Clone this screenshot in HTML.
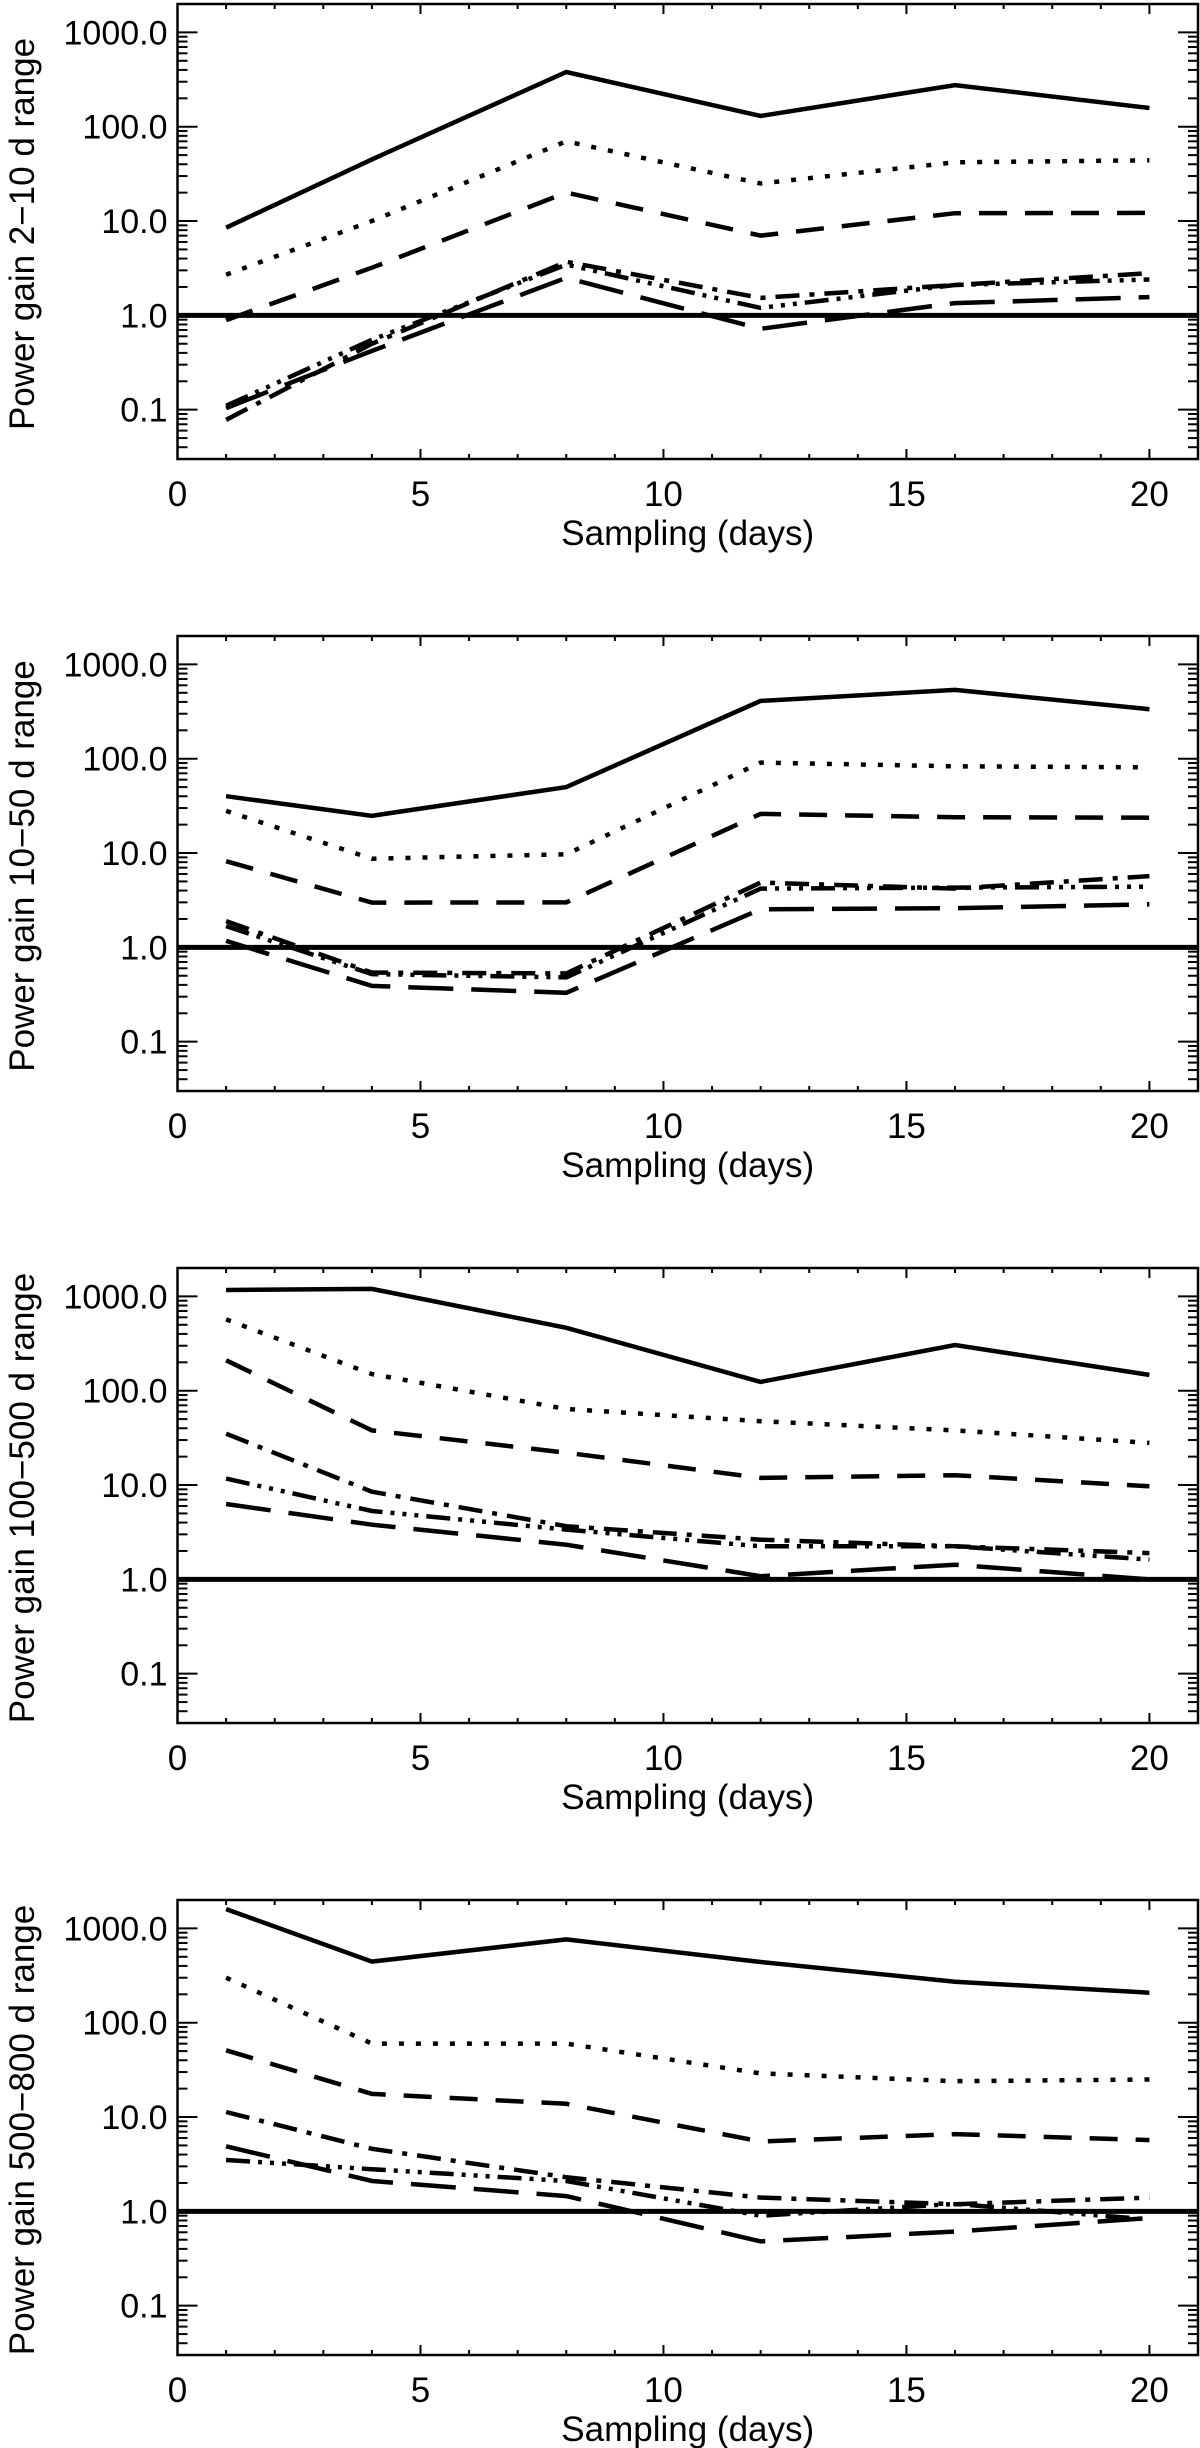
<!DOCTYPE html>
<html><head><meta charset="utf-8">
<style>
html,body{margin:0;padding:0;background:#fff;}
svg{display:block;}
text{font-family:"Liberation Sans",sans-serif;fill:#000;}
</style></head>
<body>
<svg id="chart" width="1200" height="2448" viewBox="0 0 1200 2448" xmlns="http://www.w3.org/2000/svg"></svg>
<script>
const sampling = [1, 4, 8, 12, 16, 20];
const panelTitles = ["Power gain 2\u221210 d range", "Power gain 10\u221250 d range", "Power gain 100\u2212500 d range", "Power gain 500\u2212800 d range"];
const xTickLabels = ["0", "5", "10", "15", "20"];
const xTickValues = [0, 5, 10, 15, 20];
const yTickLabels = ["0.1", "1.0", "10.0", "100.0", "1000.0"];
const yTickValues = [0.1, 1, 10, 100, 1000];
const seriesNames = ["solid", "dotted", "dashed", "dash-dot", "dash-dot-dot", "long-dash"];
const p1Solid = [8.5, 45, 380, 130, 276, 158];
const p1Dotted = [2.7, 10, 70, 25, 42, 44];
const p1Dashed = [0.89, 3.2, 20, 7.0, 12.1, 12.2];
const p1DashDot = [0.078, 0.5, 3.7, 1.53, 2.1, 2.8];
const p1DashDotDot = [0.11, 0.55, 3.45, 1.2, 2.1, 2.4];
const p1LongDash = [0.104, 0.42, 2.5, 0.72, 1.35, 1.56];
const p2Solid = [40, 24.8, 50, 410, 537, 335];
const p2Dotted = [28, 8.7, 9.7, 91, 83, 81];
const p2Dashed = [8.2, 2.98, 3.0, 26, 24, 23.7];
const p2DashDot = [1.9, 0.54, 0.53, 4.86, 4.2, 5.7];
const p2DashDotDot = [1.68, 0.52, 0.48, 4.2, 4.3, 4.4];
const p2LongDash = [1.17, 0.39, 0.33, 2.53, 2.6, 2.86];
const p3Solid = [1170, 1200, 465, 124, 305, 147];
const p3Dotted = [570, 150, 64, 47.5, 38, 28];
const p3Dashed = [210, 38, 22, 11.9, 12.7, 9.7];
const p3DashDot = [35, 8.5, 3.66, 2.63, 2.24, 1.9];
const p3DashDotDot = [11.7, 5.3, 3.37, 2.24, 2.24, 1.62];
const p3LongDash = [6.3, 3.8, 2.33, 1.08, 1.43, 1.0];
const p4Solid = [1600, 445, 765, 440, 272, 208];
const p4Dotted = [300, 60, 60, 29, 24, 25];
const p4Dashed = [51, 17.6, 13.8, 5.5, 6.6, 5.7];
const p4DashDot = [11.3, 4.6, 2.3, 1.4, 1.19, 1.4];
const p4DashDotDot = [3.5, 2.8, 2.1, 0.9, 1.2, 0.82];
const p4LongDash = [4.9, 2.1, 1.45, 0.48, 0.61, 0.85];
const panelSeries = [
  [p1Solid, p1Dotted, p1Dashed, p1DashDot, p1DashDotDot, p1LongDash],
  [p2Solid, p2Dotted, p2Dashed, p2DashDot, p2DashDotDot, p2LongDash],
  [p3Solid, p3Dotted, p3Dashed, p3DashDot, p3DashDotDot, p3LongDash],
  [p4Solid, p4Dotted, p4Dashed, p4DashDot, p4DashDotDot, p4LongDash]
];
const referenceLevel = 1;

const NS = "http://www.w3.org/2000/svg";
const svg = document.getElementById("chart");
const dashes = ["", "5 12", "28 18", "24 10 5 10", "24 8 4 8 4 8 4 8", "45 18"];
const L = 177.5, R = 1198, H = 455, XMAX = 21, YMIN = 0.03, YMAX = 2000;
function mk(tag, attrs, parent) {
  const e = document.createElementNS(NS, tag);
  for (const k in attrs) e.setAttribute(k, attrs[k]);
  parent.appendChild(e);
  return e;
}
for (let p = 0; p < 4; p++) {
  const top = 4 + 632 * p, bot = top + H;
  const xs = v => L + v / XMAX * (R - L);
  const ys = v => bot - (Math.log10(v) - Math.log10(YMIN)) / (Math.log10(YMAX) - Math.log10(YMIN)) * H;
  const g = mk("g", {}, svg);
  
  
  const frame = mk("rect", {x: L, y: top, width: R - L, height: H, fill: "none", stroke: "#000", "stroke-width": 2.5}, g);
  
  
  for (let d = 0; d <= 21; d++) {
    const len = d % 5 === 0 ? 10 : 5, x = xs(d);
    const t1 = mk("line", {x1: x, x2: x, y1: bot, y2: bot - len, stroke: "#000", "stroke-width": 2}, g);
    
    
    const t2 = mk("line", {x1: x, x2: x, y1: top, y2: top + len, stroke: "#000", "stroke-width": 2}, g);
    
    
  }
  xTickValues.forEach((v, i) => {
    const t = mk("text", {x: xs(v), y: bot + 47, "font-size": 35, "text-anchor": "middle"}, g);
    t.textContent = xTickLabels[i];
    
    
  });
  const xl = mk("text", {x: (L + R) / 2, y: bot + 86, "font-size": 35, "text-anchor": "middle"}, g);
  xl.textContent = "Sampling (days)";
  
  
  for (let e = -2; e <= 3; e++) {
    for (let m = 1; m <= 9; m++) {
      const v = m * Math.pow(10, e);
      if (v < YMIN || v > YMAX) continue;
      const y = ys(v), len = m === 1 ? 20 : 10;
      const a = mk("line", {x1: L, x2: L + len, y1: y, y2: y, stroke: "#000", "stroke-width": 2}, g);
      
      
      const b = mk("line", {x1: R, x2: R - len, y1: y, y2: y, stroke: "#000", "stroke-width": 2}, g);
      
      
    }
  }
  yTickValues.forEach((v, i) => {
    const t = mk("text", {x: L - 10, y: ys(v) + 12, "font-size": 34, "text-anchor": "end"}, g);
    t.textContent = yTickLabels[i];
    
    
  });
  const yl = mk("text", {x: 0, y: 0, "font-size": 35, "text-anchor": "middle", transform: "translate(34," + (top + 230) + ") rotate(-90)"}, g);
  yl.textContent = panelTitles[p];
  
  
  const ref = mk("line", {x1: L, x2: R, y1: ys(referenceLevel), y2: ys(referenceLevel), stroke: "#000", "stroke-width": 5}, g);
  
  
  panelSeries[p].forEach((vals, s) => {
    const pts = vals.map((v, i) => xs(sampling[i]).toFixed(1) + "," + ys(v).toFixed(1)).join(" ");
    const attrs = {points: pts, fill: "none", stroke: "#000", "stroke-width": 4.5, "stroke-linejoin": "miter"};
    if (dashes[s]) attrs["stroke-dasharray"] = dashes[s];
    const pl = mk("polyline", attrs, g);
    
    
  });
}
</script>
</body></html>
